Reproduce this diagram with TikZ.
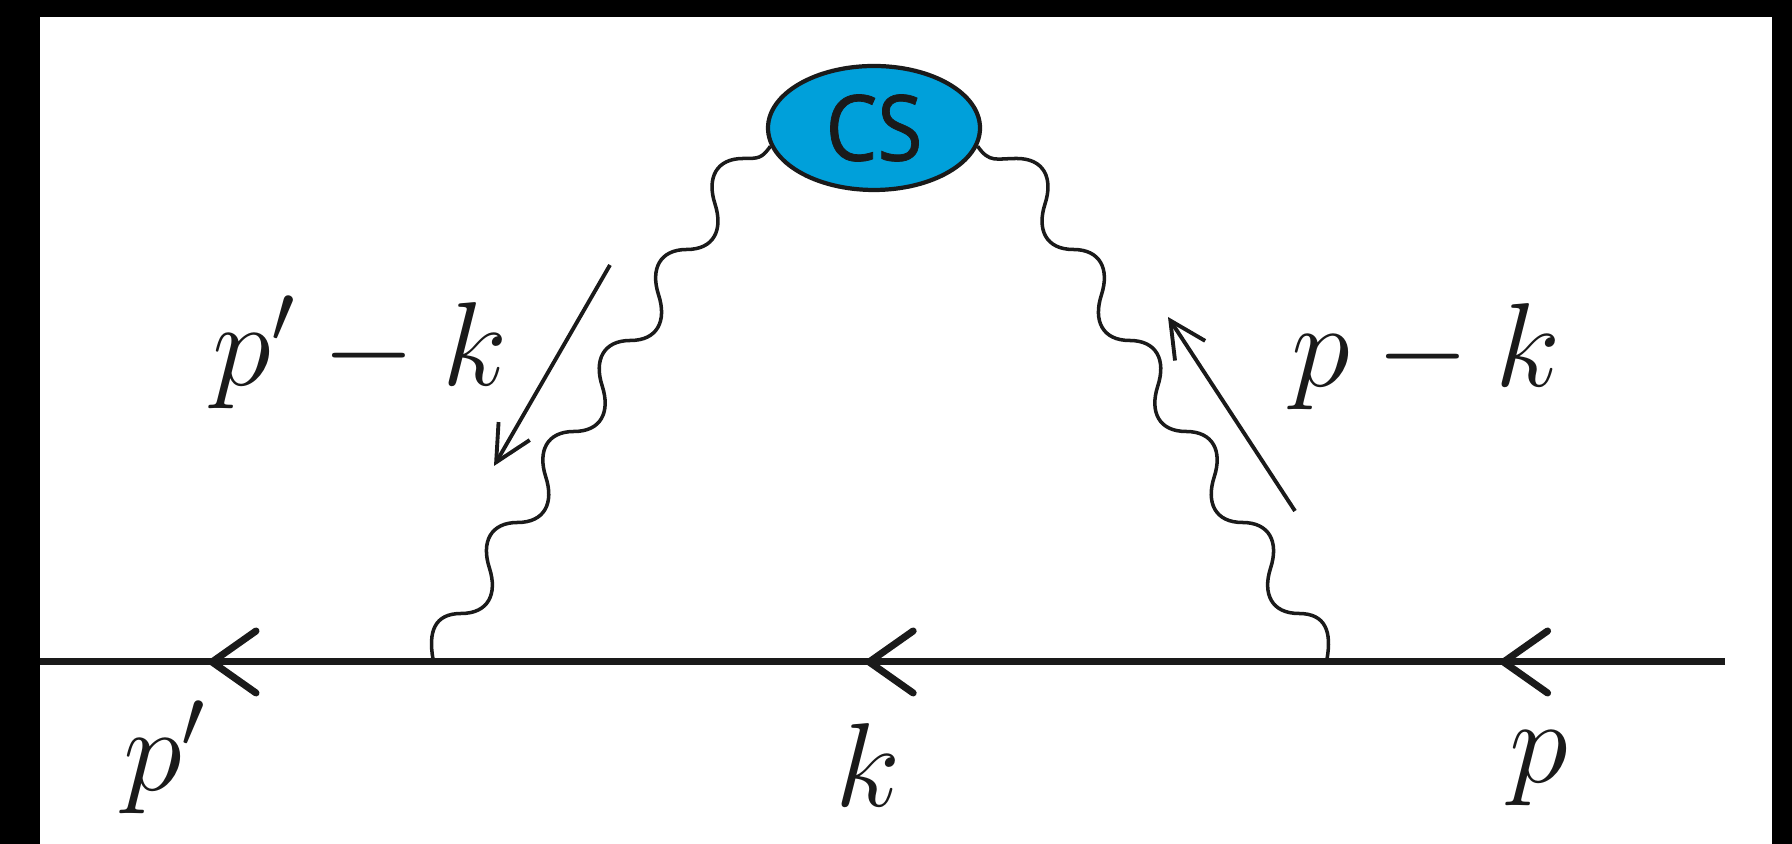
\documentclass[tikz,border=0pt]{standalone}
\usepackage{fix-cm}
\usepackage{fontspec}
\newfontfamily\labelfont[FakeStretch=.9,RawFeature={embolden=.8}]{Open Sans}
\usetikzlibrary{%
	arrows.meta,%
	decorations.markings,%
	shapes.geometric,%
}
\definecolor{cblue}{RGB}{0, 160, 218}
\definecolor{cink}{RGB}{26, 26, 26}
\tikzset{
	label math/.style={text=cink, font=\fontsize{34}{40}\selectfont, inner sep=0pt, anchor=base},
}
\begin{document}
\begin{tikzpicture}[%
		fermion/.style={draw=cink, line width=2pt, postaction={decorate}, decoration={markings,%
			mark=at position .1335 with {\arrow[line width=2pt]{Straight Barb[length=.44cm, width=.62cm, round]}},%
			mark=at position .51 with {\arrow[line width=2pt]{Straight Barb[length=.44cm, width=.62cm, round]}},%
			mark=at position .90 with {\arrow[line width=2pt]{Straight Barb[length=.44cm, width=.62cm, round]}}}},%
		photon/.style={draw=cink, line width=1pt, looseness=1.3},%
		momentum/.style={draw=cink, line width=1.1pt, -{Straight Barb[length=.36cm, width=.36cm]}}]
	\useasboundingbox (0,0) rectangle (17.92,8.44);
	\fill[white] (0,0) rectangle (17.92,8.44);
	\fill[black] (0,0) rectangle (.4,8.44);
	\fill[black] (17.72,0) rectangle (17.92,8.44);
	\fill[black] (0,8.27) rectangle (17.92,8.44);

	\coordinate (pin) at (17.25,1.82);
	\coordinate (pout) at (.4,1.82);
	\coordinate (vl) at (4.33,1.85);
	\coordinate (vr) at (13.27,1.85);

	\node[ellipse, draw=cink, line width=1.2pt, fill=cblue, minimum width=2.12cm, minimum height=1.24cm, inner sep=0pt, text=cink, font=\labelfont\fontsize{26}{30}\selectfont] (cs) at (8.74,7.16) {CS};

	\draw[photon] (vl) to[out=100, in=180] ++(.282,.455)
		\foreach \n in {1,...,5} {to[out=0, in=-72] ++(.282,.455) to[out=108, in=180] ++(.282,.455)}
		to[out=0, in=235] (cs.190);
	\draw[photon] (vr) to[out=80, in=0] ++(-.282,.455)
		\foreach \n in {1,...,5} {to[out=180, in=-108] ++(-.282,.455) to[out=72, in=0] ++(-.282,.455)}
		to[out=180, in=-55] (cs.350);
	\draw[fermion] (pin) -- (pout);

	\coordinate (al) at (6.1,5.79);
	\coordinate (bl) at (4.94,3.78);
	\coordinate (ar) at (12.95,3.33);
	\coordinate (br) at (11.68,5.27);
	\draw[momentum] (al) -- (bl);
	\draw[momentum] (ar) -- (br);

	\node[label math] (lpk) at (3.6,4.58) {$p'-k$};
	\node[label math] (rpk) at (14.26,4.57) {$p-k$};
	\node[label math] (lp) at (1.65,.53) {$p'$};
	\node[label math] (lk) at (8.68,.37) {$k$};
	\node[label math] (rp) at (15.39,.61) {$p$};
\end{tikzpicture}
\end{document}
